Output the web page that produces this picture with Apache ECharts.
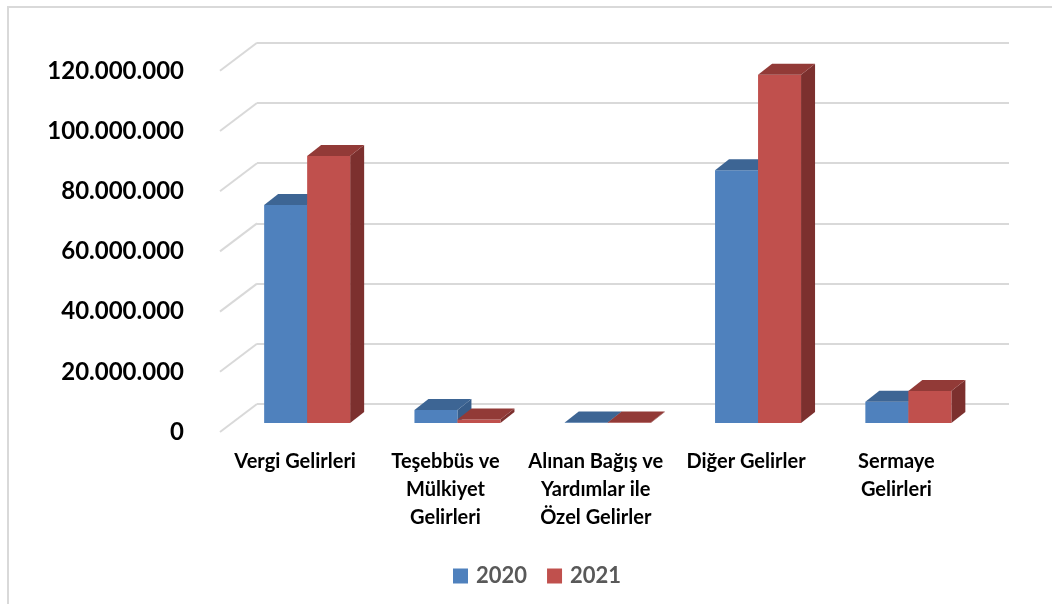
<!DOCTYPE html>
<html><head><meta charset="utf-8">
<script src="https://cdn.jsdelivr.net/npm/echarts@6/dist/echarts.min.js"></script>
<style>html,body{margin:0;padding:0;background:#fff}#c{width:1052px;height:604px}</style>
</head><body><div id="c"></div><script>
// ---- data ----
const categories = ['Vergi Gelirleri', 'Teşebbüs ve\nMülkiyet\nGelirleri', 'Alınan Bağış ve\nYardımlar ile\nÖzel Gelirler', 'Diğer Gelirler', 'Sermaye\nGelirleri'];
const seriesNames = ['2020', '2021'];
const values2020 = [72400000, 4300000, 150000, 84000000, 7100000];
const values2021 = [88700000, 1200000, 150000, 115700000, 10600000];
const yTicks = [0, 20000000, 40000000, 60000000, 80000000, 100000000, 120000000];

// ---- styles ----
const Y_MAX = 120000000, Y_STEP = 20000000;
const DX = 14, DY = -11;          // bar depth
const WALL_DX = 37, WALL_DY = 28; // side wall depth (back -> front)
const BAR_FRAC = 43 / 150.3;
const GRID_COL = '#d9d9d9';
const COLORS = [
  {face: '#4f81bd', top: '#3d6594', side: '#375d8a'},
  {face: '#c0504d', top: '#923a37', side: '#7c302e'}
];
const fmt = v => String(v).replace(/\B(?=(\d{3})+(?!\d))/g, '.');

function barRenderer(k) {
  const c = COLORS[k];
  return function (params, api) {
    const i = api.value(0), v = api.value(1);
    const p = api.coord([i, v]), b = api.coord([i, 0]);
    const band = api.size([1, 0])[0];
    const w = band * BAR_FRAC;
    const x0 = k === 0 ? p[0] - w : p[0];
    const x1 = x0 + w, yt = p[1], yb = b[1];
    return {type: 'group', children: [
      {type: 'polygon', shape: {points: [[x1, yb], [x1, yt], [x1 + DX, yt + DY], [x1 + DX, yb + DY]]}, style: {fill: c.side}},
      {type: 'rect', shape: {x: x0, y: yt, width: w, height: yb - yt}, style: {fill: c.face}},
      {type: 'polygon', shape: {points: [[x0, yt], [x1, yt], [x1 + DX, yt + DY], [x0 + DX, yt + DY]]}, style: {fill: c.top}}
    ]};
  };
}

const chart = echarts.init(document.getElementById('c'), null, {renderer: 'canvas'});
const hiddenY = {type: 'value', min: 0, max: Y_MAX, interval: Y_STEP, show: false};
chart.setOption({
  animation: false,
  backgroundColor: '#fff',
  graphic: [{type: 'rect', shape: {x: 8, y: 7, width: 1200, height: 800}, style: {fill: 'none', stroke: GRID_COL, lineWidth: 2}, silent: true, z: -10}],
  grid: [
    {left: 232, right: 68.5, top: 61.8, bottom: 181},   // bar plane
    {left: 257, right: 43, top: 42.8, bottom: 200},     // back wall
    {left: 220, right: 80.5, top: 70.8, bottom: 172}    // front plane (labels)
  ],
  xAxis: [
    {type: 'category', data: categories, gridIndex: 0, show: false},
    {type: 'value', min: 0, max: 1, gridIndex: 1, show: false},
    {type: 'category', data: categories, gridIndex: 2, axisLine: {show: false}, axisTick: {show: false},
     axisLabel: {interval: 0, margin: 16, fontFamily: 'Lato', fontWeight: 'bold', fontSize: 20, lineHeight: 28, color: '#000'}}
  ],
  yAxis: [
    Object.assign({gridIndex: 0}, hiddenY),
    {type: 'value', min: 0, max: Y_MAX, interval: Y_STEP, gridIndex: 1, axisLine: {show: false}, axisTick: {show: false}, axisLabel: {show: false},
     splitLine: {show: true, lineStyle: {color: GRID_COL, width: 2}}},
    {type: 'value', min: 0, max: Y_MAX, interval: Y_STEP, gridIndex: 2, axisLine: {show: false}, axisTick: {show: false}, splitLine: {show: false},
     axisLabel: {margin: 36, fontFamily: 'Lato', fontWeight: 'bold', fontSize: 24, color: '#000', formatter: fmt}}
  ],
  legend: {data: seriesNames, left: 448, top: 560, itemWidth: 15, itemHeight: 15, itemGap: 20, icon: 'rect',
    textStyle: {fontFamily: 'Lato', fontWeight: 'bold', fontSize: 22, color: '#595959', padding: [0, 0, 0, 3]}},
  series: [
    {type: 'custom', name: 'wall', xAxisIndex: 1, yAxisIndex: 1, z: 1, silent: true,
     data: yTicks.map(v => [0, v]),
     renderItem: function (params, api) {
       const p = api.coord([0, api.value(1)]);
       return {type: 'line', shape: {x1: p[0], y1: p[1], x2: p[0] - WALL_DX, y2: p[1] + WALL_DY}, style: {stroke: GRID_COL, lineWidth: 2}};
     }},
    {type: 'custom', name: seriesNames[0], xAxisIndex: 0, yAxisIndex: 0, z: 3, itemStyle: {color: COLORS[0].face},
     data: values2020.map((v, i) => [i, v]), renderItem: barRenderer(0)},
    {type: 'custom', name: seriesNames[1], xAxisIndex: 0, yAxisIndex: 0, z: 4, itemStyle: {color: COLORS[1].face},
     data: values2021.map((v, i) => [i, v]), renderItem: barRenderer(1)}
  ]
});
</script></body></html>
